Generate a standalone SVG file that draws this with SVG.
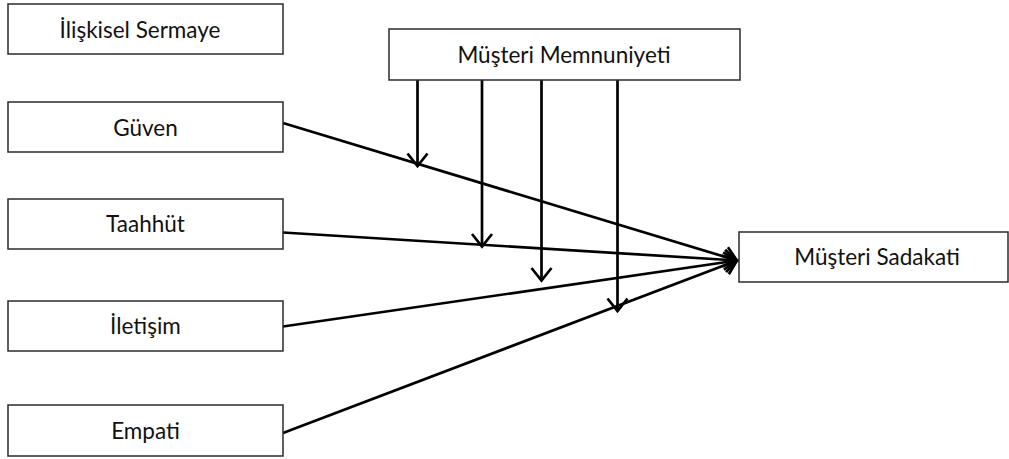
<svg xmlns="http://www.w3.org/2000/svg" width="1009" height="459" viewBox="0 0 1009 459">
  <style>
    .box { fill: #ffffff; stroke: #2b2b2b; stroke-width: 1.5; }
    .label { font-family: Lato, "Liberation Sans", sans-serif; font-size: 22.5px; fill: #111111; text-anchor: middle; }
    .edge { stroke: #000000; stroke-width: 2.7; fill: none; marker-end: url(#arrow); }
  </style>
  <defs>
    <!-- open V arrowhead -->
    <marker id="arrow" markerUnits="userSpaceOnUse" markerWidth="30" markerHeight="30" viewBox="-15 -15 30 30" refX="0" refY="0" orient="auto" overflow="visible">
      <path d="M -12.5 -10 L 0 0 L -12.5 10" fill="none" stroke="#000000" stroke-width="2.7" stroke-linejoin="miter"/>
    </marker>
  </defs>
  <rect width="1009" height="459" fill="#ffffff"/>

  <g id="connectors">
    <!-- predictors to loyalty -->
    <line class="edge" x1="283" y1="123" x2="737" y2="260.5"/>
    <line class="edge" x1="283" y1="232.5" x2="737" y2="260.5"/>
    <line class="edge" x1="283" y1="326.5" x2="737" y2="260.5"/>
    <line class="edge" x1="283" y1="433" x2="737" y2="260.5"/>
    <!-- moderating effects from satisfaction -->
    <line class="edge" x1="417.5" y1="80" x2="417.5" y2="166"/>
    <line class="edge" x1="482" y1="80" x2="482" y2="246.5"/>
    <line class="edge" x1="541.5" y1="80" x2="541.5" y2="280.5"/>
    <line class="edge" x1="617.5" y1="80" x2="617.5" y2="311"/>
  </g>

  <g id="iliskisel-sermaye">
    <rect class="box" x="8" y="4" width="275" height="50"/>
    <text class="label" x="140" y="37.5">İlişkisel Sermaye</text>
  </g>
  <g id="guven">
    <rect class="box" x="8" y="102" width="275" height="50"/>
    <text class="label" x="145.5" y="136">Güven</text>
  </g>
  <g id="taahhut">
    <rect class="box" x="8" y="199" width="275" height="50"/>
    <text class="label" x="145.5" y="232">Taahhüt</text>
  </g>
  <g id="iletisim">
    <rect class="box" x="8" y="301" width="275" height="50"/>
    <text class="label" x="145.5" y="334">İletişim</text>
  </g>
  <g id="empati">
    <rect class="box" x="8" y="405" width="275" height="51"/>
    <text class="label" x="145.5" y="439">Empati</text>
  </g>
  <g id="musteri-memnuniyeti">
    <rect class="box" x="389" y="29" width="351" height="51"/>
    <text class="label" x="564" y="63">Müşteri Memnuniyeti</text>
  </g>
  <g id="musteri-sadakati">
    <rect class="box" x="739" y="232" width="269" height="50"/>
    <text class="label" x="877" y="265">Müşteri Sadakati</text>
  </g>
</svg>
